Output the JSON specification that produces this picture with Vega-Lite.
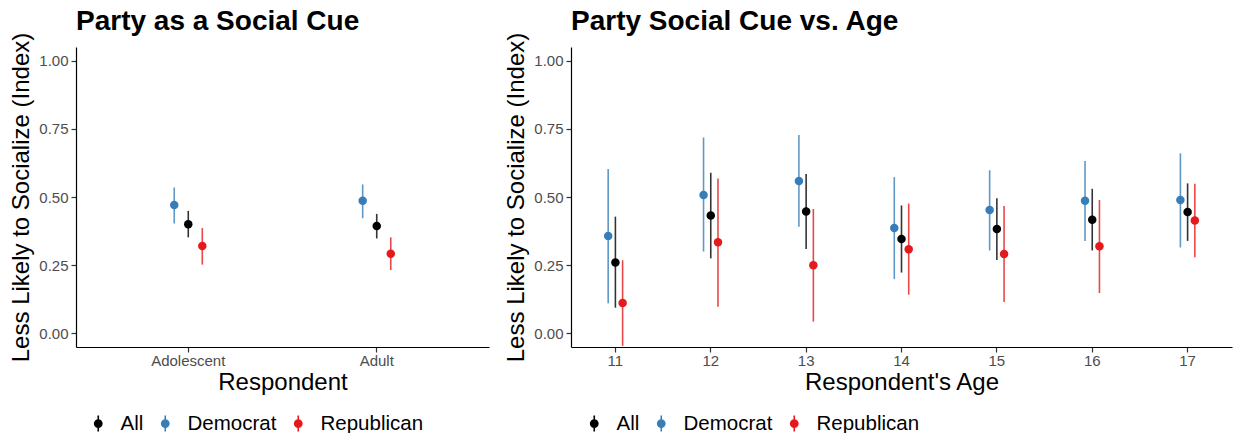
{
  "$schema": "https://vega.github.io/schema/vega-lite/v6.json",
  "padding": {"left": 9, "top": 8, "right": 2, "bottom": 0},
  "background": "white",
  "spacing": 15,
  "datasets": {
    "resp": [
      {"group": "Adolescent", "party": "Democrat", "est": 0.471, "lo": 0.403, "hi": 0.535},
      {"group": "Adolescent", "party": "All", "est": 0.400, "lo": 0.352, "hi": 0.449},
      {"group": "Adolescent", "party": "Republican", "est": 0.320, "lo": 0.252, "hi": 0.386},
      {"group": "Adult", "party": "Democrat", "est": 0.486, "lo": 0.422, "hi": 0.546},
      {"group": "Adult", "party": "All", "est": 0.394, "lo": 0.348, "hi": 0.438},
      {"group": "Adult", "party": "Republican", "est": 0.292, "lo": 0.232, "hi": 0.352}
    ],
    "age": [
      {"age": 11, "party": "Democrat", "est": 0.357, "lo": 0.110, "hi": 0.603},
      {"age": 11, "party": "All", "est": 0.260, "lo": 0.094, "hi": 0.428},
      {"age": 11, "party": "Republican", "est": 0.111, "lo": -0.046, "hi": 0.268},
      {"age": 12, "party": "Democrat", "est": 0.507, "lo": 0.300, "hi": 0.718},
      {"age": 12, "party": "All", "est": 0.432, "lo": 0.275, "hi": 0.589},
      {"age": 12, "party": "Republican", "est": 0.334, "lo": 0.098, "hi": 0.568},
      {"age": 13, "party": "Democrat", "est": 0.559, "lo": 0.391, "hi": 0.727},
      {"age": 13, "party": "All", "est": 0.447, "lo": 0.309, "hi": 0.584},
      {"age": 13, "party": "Republican", "est": 0.250, "lo": 0.043, "hi": 0.456},
      {"age": 14, "party": "Democrat", "est": 0.386, "lo": 0.199, "hi": 0.573},
      {"age": 14, "party": "All", "est": 0.346, "lo": 0.223, "hi": 0.469},
      {"age": 14, "party": "Republican", "est": 0.308, "lo": 0.142, "hi": 0.476},
      {"age": 15, "party": "Democrat", "est": 0.452, "lo": 0.304, "hi": 0.598},
      {"age": 15, "party": "All", "est": 0.383, "lo": 0.269, "hi": 0.495},
      {"age": 15, "party": "Republican", "est": 0.291, "lo": 0.115, "hi": 0.467},
      {"age": 16, "party": "Democrat", "est": 0.486, "lo": 0.339, "hi": 0.632},
      {"age": 16, "party": "All", "est": 0.417, "lo": 0.304, "hi": 0.530},
      {"age": 16, "party": "Republican", "est": 0.319, "lo": 0.148, "hi": 0.489},
      {"age": 17, "party": "Democrat", "est": 0.489, "lo": 0.315, "hi": 0.660},
      {"age": 17, "party": "All", "est": 0.445, "lo": 0.339, "hi": 0.550},
      {"age": 17, "party": "Republican", "est": 0.414, "lo": 0.279, "hi": 0.549}
    ]
  },
  "config": {
    "font": "Liberation Sans",
    "view": {"stroke": null},
    "axis": {
      "grid": false,
      "domainColor": "black",
      "domainWidth": 1.2,
      "tickColor": "#333333",
      "tickWidth": 1.2,
      "tickSize": 5,
      "labelColor": "#4D4D4D",
      "labelFontSize": 15,
      "labelFont": "Liberation Sans",
      "titleFont": "Liberation Sans",
      "titleFontSize": 24,
      "titleFontWeight": "normal",
      "titleColor": "black"
    },
    "title": {"fontSize": 28, "fontWeight": "bold", "anchor": "start", "frame": "group", "color": "black", "font": "Liberation Sans", "baseline": "alphabetic", "offset": -4},
    "legend": {
      "orient": "none",
      "direction": "horizontal",
      "title": null,
      "labelFontSize": 20.5,
      "labelColor": "black",
      "labelFont": "Liberation Sans",
      "symbolType": "M0,-1L0,1M-0.45,0A0.45,0.45,0,1,1,0.45,0A0.45,0.45,0,1,1,-0.45,0Z",
      "symbolSize": 256,
      "symbolStrokeWidth": 1.6,
      "symbolOpacity": 1,
      "labelOffset": 12,
      "columnPadding": 11,
      "padding": 0
    }
  },
  "resolve": {"scale": {"color": "independent", "xOffset": "independent"}, "legend": {"color": "independent"}},
  "hconcat": [
    {
      "title": {"text": "Party as a Social Cue"},
      "width": 413,
      "height": 300,
      "data": {"name": "resp"},
      "encoding": {
        "x": {"field": "group", "type": "nominal", "sort": ["Adolescent", "Adult"],
              "scale": {"paddingInner": 0.7766, "paddingOuter": 0.484},
              "axis": {"labelAngle": 0, "title": "Respondent", "labelPadding": 1, "titlePadding": 2}},
        "xOffset": {"field": "party", "type": "nominal", "sort": ["Democrat", "All", "Republican"]},
        "color": {"field": "party", "type": "nominal",
                  "scale": {"domain": ["All", "Democrat", "Republican"], "range": ["#000000", "#377EB8", "#E41A1C"]},
                  "legend": {"legendX": 12, "legendY": 366,
                             "encode": {"symbols": {"update": {
                               "fill": {"signal": "datum.value === 'All' ? '#000000' : datum.value === 'Democrat' ? '#377EB8' : '#E41A1C'"},
                               "stroke": {"signal": "datum.value === 'All' ? '#000000' : datum.value === 'Democrat' ? '#377EB8' : '#E41A1C'"},
                               "strokeWidth": {"value": 1.6},
                               "opacity": {"value": 1}}}}}}
      },
      "layer": [
        {
          "mark": {"type": "rule", "strokeWidth": 1.6, "opacity": 0.8, "clip": true},
          "encoding": {
            "y": {"field": "lo", "type": "quantitative",
                  "scale": {"domain": [-0.05, 1.05], "nice": false, "zero": false},
                  "axis": {"values": [0, 0.25, 0.5, 0.75, 1], "format": ".2f", "labelPadding": 3, "titlePadding": 5},
                  "title": "Less Likely to Socialize (Index)"},
            "y2": {"field": "hi"}
          }
        },
        {
          "mark": {"type": "point", "filled": true, "size": 72, "opacity": 1},
          "encoding": {
            "y": {"field": "est", "type": "quantitative", "title": "Less Likely to Socialize (Index)"}
          }
        }
      ]
    },
    {
      "title": {"text": "Party Social Cue vs. Age"},
      "width": 661,
      "height": 300,
      "data": {"name": "age"},
      "encoding": {
        "x": {"field": "age", "type": "ordinal",
              "scale": {"paddingInner": 0.773, "paddingOuter": 0.352},
              "axis": {"labelAngle": 0, "title": "Respondent's Age", "labelPadding": 1, "titlePadding": 2}},
        "xOffset": {"field": "party", "type": "nominal", "sort": ["Democrat", "All", "Republican"]},
        "color": {"field": "party", "type": "nominal",
                  "scale": {"domain": ["All", "Democrat", "Republican"], "range": ["#000000", "#377EB8", "#E41A1C"]},
                  "legend": {"legendX": 13, "legendY": 366,
                             "encode": {"symbols": {"update": {
                               "fill": {"signal": "datum.value === 'All' ? '#000000' : datum.value === 'Democrat' ? '#377EB8' : '#E41A1C'"},
                               "stroke": {"signal": "datum.value === 'All' ? '#000000' : datum.value === 'Democrat' ? '#377EB8' : '#E41A1C'"},
                               "strokeWidth": {"value": 1.6},
                               "opacity": {"value": 1}}}}}}
      },
      "layer": [
        {
          "mark": {"type": "rule", "strokeWidth": 1.6, "opacity": 0.8, "clip": true},
          "encoding": {
            "y": {"field": "lo", "type": "quantitative",
                  "scale": {"domain": [-0.05, 1.05], "nice": false, "zero": false},
                  "axis": {"values": [0, 0.25, 0.5, 0.75, 1], "format": ".2f", "labelPadding": 3, "titlePadding": 5},
                  "title": "Less Likely to Socialize (Index)"},
            "y2": {"field": "hi"}
          }
        },
        {
          "mark": {"type": "point", "filled": true, "size": 72, "opacity": 1},
          "encoding": {
            "y": {"field": "est", "type": "quantitative", "title": "Less Likely to Socialize (Index)"}
          }
        }
      ]
    }
  ]
}
